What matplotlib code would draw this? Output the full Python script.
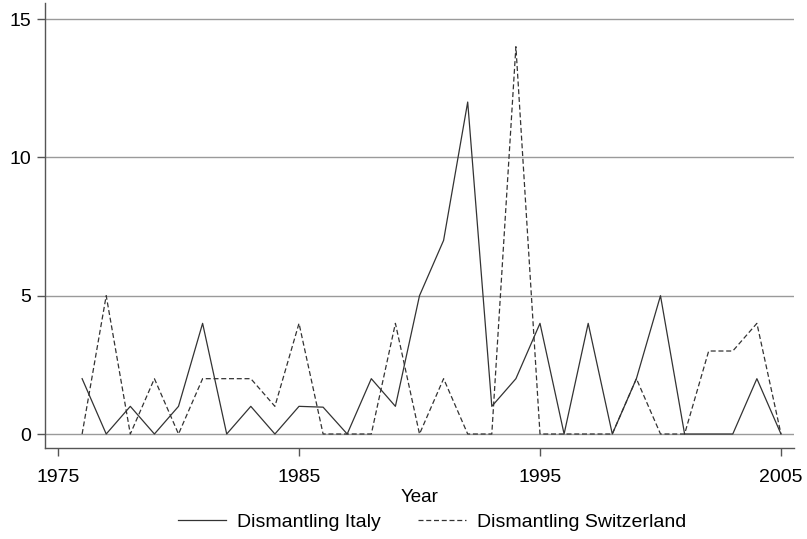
import matplotlib
matplotlib.use("Agg")
import matplotlib.pyplot as plt

plt.rcParams['font.family'] = ['Liberation Sans', 'DejaVu Sans']

# values
years = list(range(1976, 2006))
italy = [2, 0, 1, 0, 1, 4, 0, 1, 0, 1, 0.97, 0, 2, 1, 5, 7, 12, 1, 2, 4,
         0, 4, 0, 2, 5, 0, 0, 0, 2, 0]
switzerland = [0, 5, 0, 2, 0, 2, 2, 2, 1, 4, 0, 0, 0, 4, 0, 2, 0, 0, 14, 0,
               0, 0, 0, 2, 0, 0, 3, 3, 4, 0]
x_ticks = [1975, 1985, 1995, 2005]
y_ticks = [0, 5, 10, 15]

line_col = '#333333'
grid_col = '#9a9a9a'
axis_col = '#555555'

fig = plt.figure(figsize=(8.07, 5.39), dpi=100)
ax = fig.add_axes([45 / 807, 1 - 448 / 539, 749 / 807, 445 / 539])

ax.plot(years, italy, color=line_col, lw=0.9, label='Dismantling Italy')
ax.plot(years, switzerland, color=line_col, lw=0.9, linestyle=(0, (4, 2.2)),
        label='Dismantling Switzerland')

ax.set_xlim(1974.46, 2005.54)
ax.set_ylim(-0.506, 15.58)
ax.set_xticks(x_ticks)
ax.set_yticks(y_ticks)
ax.yaxis.grid(True, color=grid_col, lw=1.0)
ax.set_axisbelow(True)

for side in ['top', 'right']:
    ax.spines[side].set_visible(False)
for side in ['left', 'bottom']:
    ax.spines[side].set_color(axis_col)
    ax.spines[side].set_linewidth(1.0)

ax.tick_params(axis='both', direction='out', length=6, width=1.0,
               color=axis_col, labelsize=14, pad=4)
ax.tick_params(axis='x', pad=9)
ax.set_xlabel('Year', fontsize=13.5, labelpad=2)

fig.legend(loc='center', bbox_to_anchor=(432 / 807, 1 - 522 / 539), ncol=2,
           frameon=False, fontsize=14, handlelength=2.5, columnspacing=1.9,
           handletextpad=0.55)

fig.savefig('out.png', dpi=100)
